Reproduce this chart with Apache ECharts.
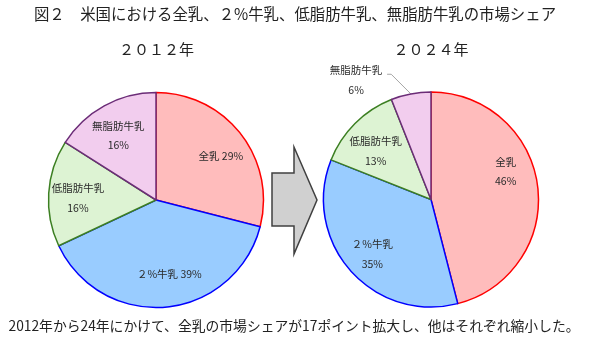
<!DOCTYPE html>
<html>
<head>
<meta charset="utf-8">
<script src="https://cdn.jsdelivr.net/npm/echarts@6/dist/echarts.min.js"></script>
<style>
html, body { margin: 0; padding: 0; background: #fff; }
#chart { width: 592px; height: 346px; }
</style>
</head>
<body>
<div id="chart"></div>
<script>
// Market share of milk types in the US (%)
const categories = ['全乳', '２%牛乳', '低脂肪牛乳', '無脂肪牛乳'];
const share2012 = [29, 39, 16, 16];
const share2024 = [46, 35, 13, 6];
const yearLabels = ['２０１２年', '２０２４年'];
const titleText = '図２　米国における全乳、２%牛乳、低脂肪牛乳、無脂肪牛乳の市場シェア';
const noteText = '2012年から24年にかけて、全乳の市場シェアが17ポイント拡大し、他はそれぞれ縮小した。';

const FONT = '"Noto Sans CJK JP", "Noto Sans", sans-serif';
const fills = ['#FFBCBC', '#99CCFF', '#DDF3D3', '#F2CDEE'];
const strokes = ['#FF0000', '#0000FF', '#3C7F22', '#6B2C77'];
const R = 107.5;
const LABEL_FONT = 10.5;
const LABEL_COLOR = '#2a2a2a';

// slice fill + outline for each category
function slices(values) {
  return categories.map((name, i) => ({
    name: name,
    value: values[i],
    itemStyle: { color: fills[i], borderColor: strokes[i], borderWidth: 1.5 }
  }));
}

// transparent copy of a pie, larger, so its inside labels sit ~0.7R from the centre
function labelPie(center, values, opts) {
  return {
    type: 'pie',
    center: center,
    radius: [0, R * 1.4],
    silent: true,
    z: 5,
    startAngle: 90,
    itemStyle: { color: 'transparent', borderWidth: 0 },
    emphasis: { disabled: true },
    labelLine: { show: false },
    data: categories.map((name, i) => {
      const inline = opts.inline.indexOf(i) >= 0;
      return {
        name: name,
        value: values[i],
        label: {
          show: opts.hidden.indexOf(i) < 0,
          position: 'inside',
          formatter: inline ? '{b} {c}%' : '{b}\n{c}%',
          offset: opts.offsets[i] || [0, 0]
        }
      };
    }),
    label: {
      color: LABEL_COLOR,
      fontFamily: FONT,
      fontSize: LABEL_FONT,
      lineHeight: 19.5,
      align: 'center'
    }
  };
}

function mainPie(center, values, outside) {
  return {
    type: 'pie',
    center: center,
    radius: [0, R],
    startAngle: 90,
    clockwise: true,
    silent: true,
    animation: false,
    emphasis: { disabled: true },
    data: slices(values).map((d, i) => {
      if (outside.indexOf(i) >= 0) {
        d.label = {
          show: true,
          position: 'outside',
          formatter: '{n|{b}}\n{n|{c}%}',
          padding: [12, 0, 0, 0],
          rich: {
            n: { width: 52, align: 'center', fontSize: LABEL_FONT, fontFamily: FONT, color: LABEL_COLOR, lineHeight: 19.5 }
          }
        };
        d.labelLine = {
          show: true,
          length: 20,
          length2: 20,
          minTurnAngle: 135,
          lineStyle: { color: '#A6A6A6', width: 1 }
        };
      } else {
        d.label = { show: false };
        d.labelLine = { show: false };
      }
      return d;
    })
  };
}

const leftC = [156, 200];
const rightC = [431, 199.5];

const chart = echarts.init(document.getElementById('chart'), null, { renderer: 'canvas' });
chart.setOption({
  animation: false,
  backgroundColor: '#fff',
  series: [
    mainPie(leftC, share2012, []),
    labelPie(leftC, share2012, {
      inline: [0, 1], hidden: [],
      offsets: { 0: [3, 4], 1: [6, -4], 2: [0, 3], 3: [0, 4] }
    }),
    mainPie(rightC, share2024, [3]),
    labelPie(rightC, share2024, {
      inline: [], hidden: [3],
      offsets: { 0: [-3, -18], 1: [0, 3], 2: [0, 7] }
    })
  ],
  graphic: [
    {
      type: 'polygon',
      shape: { points: [[272, 173], [294, 173], [294, 147], [317, 200], [294, 254], [294, 226], [272, 226]] },
      style: { fill: '#D0D0D0', stroke: '#404040', lineWidth: 1.5 }
    },
    {
      type: 'text',
      style: { text: titleText, x: 295, y: 14, textAlign: 'center', textVerticalAlign: 'middle', fontSize: 15.4, fontFamily: FONT, fill: '#222' }
    },
    {
      type: 'text',
      style: { text: yearLabels[0], x: 156.5, y: 49, textAlign: 'center', textVerticalAlign: 'middle', fontSize: 15, fontFamily: FONT, fill: '#222' }
    },
    {
      type: 'text',
      style: { text: yearLabels[1], x: 431, y: 49, textAlign: 'center', textVerticalAlign: 'middle', fontSize: 15, fontFamily: FONT, fill: '#222' }
    },
    {
      type: 'text',
      style: { text: noteText, x: 294, y: 326, textAlign: 'center', textVerticalAlign: 'middle', fontSize: 13.8, fontFamily: FONT, fill: '#222' }
    }
  ]
});
</script>
</body>
</html>
